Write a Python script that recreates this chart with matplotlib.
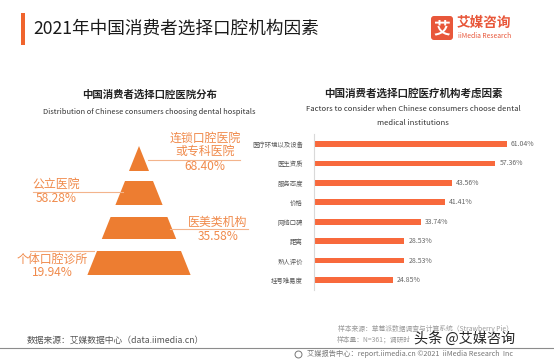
import matplotlib
matplotlib.use("Agg")
import matplotlib.pyplot as plt
from matplotlib.patches import Polygon, FancyBboxPatch

plt.rcParams['font.family'] = ['Noto Sans CJK SC', 'DejaVu Sans']

# ---------------- data ----------------
pyr_labels = ["连锁口腔医院\n或专科医院", "公立医院", "医美类机构", "个体口腔诊所"]
pyr_values = [68.40, 58.28, 35.58, 19.94]

factor_labels = ["医疗环境以及设备", "医生资质", "服务态度", "价格",
                 "网络口碑", "距离", "熟人评价", "挂号难易度"]
factor_values = [61.04, 57.36, 43.56, 41.41, 33.74, 28.53, 28.53, 24.85]

W, H = 554, 360
fig = plt.figure(figsize=(W / 100, H / 100), dpi=100)
fig.patch.set_facecolor("white")

ORANGE = "#ED7D31"
LABEL_OR = "#F08A4B"
BAR_OR = "#F8693C"

# overlay axes in pixel coordinates
ov = fig.add_axes([0, 0, 1, 1])
ov.set_xlim(0, W)
ov.set_ylim(H, 0)
ov.axis("off")

# ---------------- header ----------------
ov.add_patch(plt.Rectangle((21, 13), 4, 32, color="#F0642D", lw=0))
ov.text(33, 29, "2021年中国消费者选择口腔机构因素", fontsize=12.7, color="#1a1a1a",
        va="center", ha="left")
ov.add_patch(FancyBboxPatch((431, 16), 22, 24, boxstyle="round,pad=0,rounding_size=3",
                            color="#E8573A", lw=0))
ov.text(442, 28.5, "艾", fontsize=12, color="white", ha="center", va="center", fontweight="bold")
ov.text(457, 23, "艾媒咨询", fontsize=9.8, color="#E8573A", ha="left", va="center", fontweight="bold")
ov.text(458, 36.5, "iiMedia Research", fontsize=4.9, color="#E8573A", ha="left", va="center")

# ---------------- left: pyramid ----------------
ov.text(150, 95, "中国消费者选择口腔医院分布", fontsize=7.5, fontweight="bold",
        color="#222222", ha="center", va="center")
ov.text(149, 112, "Distribution of Chinese consumers choosing dental hospitals",
        fontsize=5.4, color="#333333", ha="center", va="center")

apex_x, apex_y, slope = 139, 146, 0.4
segs = [(146, 171), (181, 205), (217, 239), (251, 275)]
for (t, b) in segs:
    ht, hb = (t - apex_y) * slope, (b - apex_y) * slope
    ov.add_patch(Polygon([(apex_x - ht, t), (apex_x + ht, t),
                          (apex_x + hb, b), (apex_x - hb, b)],
                         closed=True, color=ORANGE, lw=0))

LINE_C = "#F3B48C"
# segment 1 (right)
ov.plot([148, 240], [159.5, 159.5], color=LINE_C, lw=0.8)
ov.text(205, 145, pyr_labels[0], fontsize=8.6, color=LABEL_OR, ha="center", va="center",
        linespacing=1.05)
ov.text(205, 166, f"{pyr_values[0]:.2f}%", fontsize=8.6, color=LABEL_OR, ha="center", va="center")
# segment 2 (left)
ov.plot([33, 123], [192, 192], color=LINE_C, lw=0.8)
ov.text(56, 184.5, pyr_labels[1], fontsize=8.6, color=LABEL_OR, ha="center", va="center")
ov.text(56, 198.5, f"{pyr_values[1]:.2f}%", fontsize=8.6, color=LABEL_OR, ha="center", va="center")
# segment 3 (right)
ov.plot([170, 248], [229, 229], color=LINE_C, lw=0.8)
ov.text(218, 222.5, pyr_labels[2], fontsize=8.6, color=LABEL_OR, ha="center", va="center")
ov.text(218, 236.5, f"{pyr_values[2]:.2f}%", fontsize=8.6, color=LABEL_OR, ha="center", va="center")
# segment 4 (left)
ov.plot([30, 94], [251, 251], color=LINE_C, lw=0.8)
ov.text(52, 259, pyr_labels[3], fontsize=8.6, color=LABEL_OR, ha="center", va="center")
ov.text(52, 273, f"{pyr_values[3]:.2f}%", fontsize=8.6, color=LABEL_OR, ha="center", va="center")

# ---------------- right: bars ----------------
ov.text(413, 93, "中国消费者选择口腔医疗机构考虑因素", fontsize=7.6, fontweight="bold",
        color="#222222", ha="center", va="center")
ov.text(413, 109, "Factors to consider when Chinese consumers choose dental",
        fontsize=5.5, color="#333333", ha="center", va="center")
ov.text(413, 123, "medical institutions",
        fontsize=5.5, color="#333333", ha="center", va="center")

step = 19.43
top_px = 144 - step / 2
bot_px = 280 + step / 2
left_px = 314
xmax = 70
right_px = left_px + xmax * (507 - 314) / 61.04
ax = fig.add_axes([left_px / W, 1 - bot_px / H, (right_px - left_px) / W, (bot_px - top_px) / H])
ax.set_facecolor("none")
ypos = list(range(len(factor_values)))
ax.barh(ypos, factor_values, height=0.29, color=BAR_OR, lw=0)
ax.set_xlim(0, xmax)
ax.set_ylim(len(factor_values) - 0.5, -0.5)
for s in ["top", "right", "bottom"]:
    ax.spines[s].set_visible(False)
ax.spines["left"].set_color("#D9D9D9")
ax.spines["left"].set_linewidth(0.8)
ax.set_xticks([])
ax.set_yticks(ypos)
ax.set_yticklabels(factor_labels, fontsize=4.6, color="#555555")
ax.tick_params(axis="y", length=0, pad=8)
for y, v in zip(ypos, factor_values):
    ax.text(v + 1.3, y, f"{v:.2f}%", fontsize=5, color="#666666", va="center", ha="left")

# ---------------- footer ----------------
ov.text(27, 340, "数据来源：艾媒数据中心（data.iimedia.cn）", fontsize=6.3, color="#555555",
        ha="left", va="center")
ov.text(513, 329, "样本来源：草莓派数据调查与计算系统（Strawberry Pie）", fontsize=4.9,
        color="#9a9a9a", ha="right", va="center")
ov.text(337, 340, "样本量：N=361；调研时", fontsize=4.9,
        color="#9a9a9a", ha="left", va="center")
ov.plot([0, 554], [348, 348], color="#8c8c8c", lw=0.8)
ov.plot([298], [354], marker="o", ms=5, mfc="none", mec="#777777", mew=0.7)
ov.text(513, 354, "艾媒报告中心：report.iimedia.cn ©2021  iiMedia Research  Inc", fontsize=5.2,
        color="#777777", ha="right", va="center")
ov.text(515, 339, "头条 @艾媒咨询", fontsize=10.2, color="#222222", ha="right", va="center")

fig.savefig("out.png", dpi=100, facecolor="white")
